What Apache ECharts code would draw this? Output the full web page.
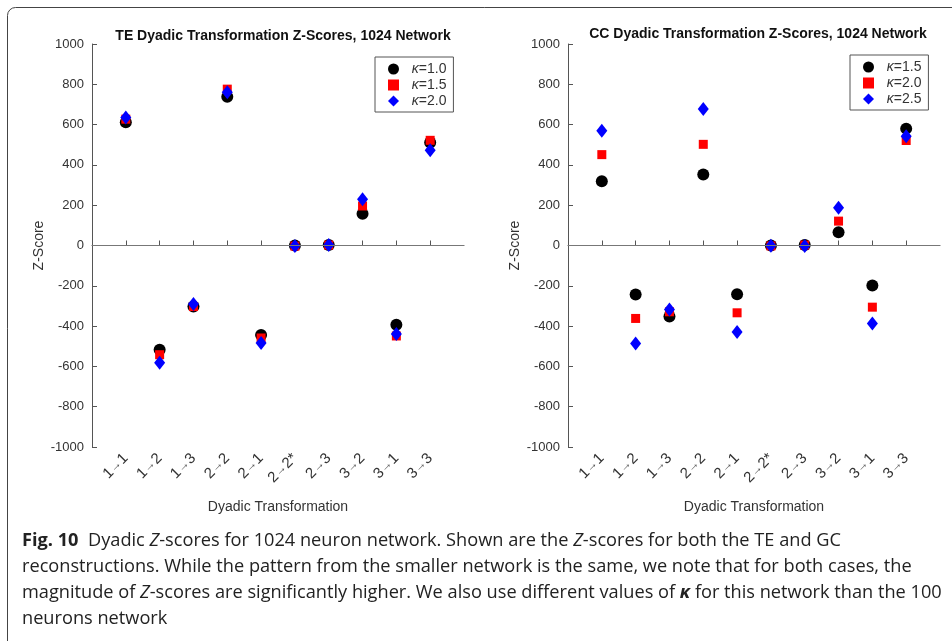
<!DOCTYPE html>
<html>
<head>
<meta charset="utf-8">
<script src="https://cdn.jsdelivr.net/npm/echarts@6/dist/echarts.min.js"></script>
<style>
  html, body { margin: 0; padding: 0; background: #fff; }
  #main { width: 952px; height: 641px; }
</style>
</head>
<body>
<div id="main"></div>
<script>
// tick labels of the dyadic transformations (x positions 1..10)
const transforms = ['1→1', '1→2', '1→3', '2→2', '2→1', '2→2*', '2→3', '3→2', '3→1', '3→3'];
const yTicks = [-1000, -800, -600, -400, -200, 0, 200, 400, 600, 800, 1000];

// TE z-scores
const teK10 = [612, -517, -303, 738, -444, 0, 2, 158, -393, 511];
const teK15 = [627, -542, -303, 776, -459, -3, 2, 196, -449, 522];
const teK20 = [635, -582, -290, 760, -484, -2, 2, 229, -439, 473];

// CC z-scores
const ccK15 = [319, -243, -352, 352, -242, 0, 3, 66, -198, 580];
const ccK20 = [451, -362, -329, 502, -334, -2, 2, 121, -306, 521];
const ccK25 = [570, -486, -318, 678, -429, -1, -3, 187, -387, 542];

const chart = echarts.init(document.getElementById('main'));

const pts = arr => arr.map((v, i) => [i + 1, v]);
const font = 'Arial, "Liberation Sans", sans-serif';
const capFont = '"Open Sans", sans-serif';
const capSize = 18.2;

function xAxisFor(idx) {
  return {
    type: 'value', gridIndex: idx, min: 0, max: 11, interval: 1,
    name: 'Dyadic Transformation', nameLocation: 'middle', nameGap: 53,
    nameTextStyle: { fontFamily: font, fontSize: 14, color: '#333' },
    axisLine: { lineStyle: { color: '#555', width: 1 } },
    axisTick: { inside: true, length: 5, lineStyle: { color: '#555' }, customValues: [1, 2, 3, 4, 5, 6, 7, 8, 9, 10] },
    axisLabel: {
      customValues: [1, 2, 3, 4, 5, 6, 7, 8, 9, 10],
      rotate: 45, margin: 9, fontFamily: font, fontSize: 15, color: '#333',
      formatter: v => {
        const t = transforms[v - 1] || '';
        const p = t.split('→');
        return '{n|' + p[0] + '}{a|→}{n|' + p[1] + '}';
      },
      rich: {
        n: { fontFamily: font, fontSize: 15, color: '#333' },
        a: { fontFamily: font, fontSize: 12, color: '#555' }
      }
    },
    splitLine: { show: false }
  };
}

function yAxisFor(idx) {
  return {
    type: 'value', gridIndex: idx, min: yTicks[0], max: yTicks[yTicks.length - 1], interval: 200,
    name: 'Z-Score', nameLocation: 'middle', nameGap: 46, nameRotate: 90,
    nameTextStyle: { fontFamily: font, fontSize: 14, color: '#333' },
    axisLine: { show: true, lineStyle: { color: '#555', width: 1 } },
    axisTick: { show: true, inside: true, length: 5, lineStyle: { color: '#555' } },
    axisLabel: { fontFamily: font, fontSize: 13, color: '#333', margin: 8, formatter: v => String(v) },
    splitLine: { show: false }
  };
}

const zeroLine = {
  silent: true, symbol: 'none', label: { show: false },
  lineStyle: { color: '#777', width: 1, type: 'solid' },
  data: [{ yAxis: 0 }]
};

function scatter(name, idx, data, symbol, size, color, withLine) {
  const s = {
    name: name, type: 'scatter', xAxisIndex: idx, yAxisIndex: idx,
    data: pts(data), symbol: symbol, symbolSize: size,
    itemStyle: { color: color, opacity: 1 }
  };
  if (withLine) s.markLine = zeroLine;
  return s;
}

const legendBase = {
  orient: 'vertical', itemWidth: 11, itemHeight: 11, itemGap: 2,
  padding: [5, 7, 4, 13],
  borderColor: '#555', borderWidth: 1, backgroundColor: '#fff',
  selectedMode: false,
  formatter: name => '  {k|κ}' + name.split('κ')[1],
  textStyle: {
    fontFamily: font, fontSize: 14, color: '#333',
    rich: { k: { fontFamily: font, fontSize: 14, fontStyle: 'italic', color: '#333' } }
  }
};

const option = {
  animation: false,
  backgroundColor: '#fff',
  title: [
    { text: 'TE Dyadic Transformation Z-Scores, 1024 Network', left: 278, top: 24, textAlign: 'center',
      textStyle: { fontFamily: font, fontSize: 14, fontWeight: 'bold', color: '#111' } },
    { text: 'CC Dyadic Transformation Z-Scores, 1024 Network', left: 753, top: 22, textAlign: 'center',
      textStyle: { fontFamily: font, fontSize: 14, fontWeight: 'bold', color: '#111' } }
  ],
  grid: [
    { left: 92, top: 44, width: 372, height: 403 },
    { left: 568, top: 44, width: 372, height: 403 }
  ],
  xAxis: [xAxisFor(0), xAxisFor(1)],
  yAxis: [yAxisFor(0), yAxisFor(1)],
  legend: [
    Object.assign({}, legendBase, { left: 375, top: 57, data: [
      { name: 'TE κ=1.0', icon: 'circle' }, { name: 'TE κ=1.5', icon: 'rect' }, { name: 'TE κ=2.0', icon: 'diamond' }] }),
    Object.assign({}, legendBase, { left: 850, top: 55, data: [
      { name: 'CC κ=1.5', icon: 'circle' }, { name: 'CC κ=2.0', icon: 'rect' }, { name: 'CC κ=2.5', icon: 'diamond' }] })
  ],
  series: [
    scatter('TE κ=1.0', 0, teK10, 'circle', 12, '#000', true),
    scatter('TE κ=1.5', 0, teK15, 'rect', 9, '#f00', false),
    scatter('TE κ=2.0', 0, teK20, 'diamond', [11, 14], '#00f', false),
    scatter('CC κ=1.5', 1, ccK15, 'circle', 12, '#000', true),
    scatter('CC κ=2.0', 1, ccK20, 'rect', 9, '#f00', false),
    scatter('CC κ=2.5', 1, ccK25, 'diamond', [11, 14], '#00f', false)
  ],
  graphic: [
    { type: 'rect', shape: { x: 7.5, y: 7.5, width: 980, height: 700, r: [8, 0, 0, 0] },
      style: { fill: 'none', stroke: '#444', lineWidth: 1 }, silent: true },
    { type: 'text', left: 22, top: 532, style: {
      text: '{b|Fig. 10}  Dyadic {i|Z}-scores for 1024 neuron network. Shown are the {i|Z}-scores for both the TE and GC',
      fontFamily: capFont, fontSize: capSize, fill: '#222',
      rich: { b: { fontFamily: capFont, fontSize: capSize, fontWeight: 'bold', fill: '#222' },
              i: { fontFamily: capFont, fontSize: capSize, fontStyle: 'italic', fill: '#222' } } } },
    { type: 'text', left: 22, top: 558, style: {
      text: 'reconstructions. While the pattern from the smaller network is the same, we note that for both cases, the',
      fontFamily: capFont, fontSize: capSize, fill: '#222' } },
    { type: 'text', left: 22, top: 584, style: {
      text: 'magnitude of {i|Z}-scores are significantly higher. We also use different values of {k|κ} for this network than the 100',
      fontFamily: capFont, fontSize: capSize, fill: '#222',
      rich: { i: { fontFamily: capFont, fontSize: capSize, fontStyle: 'italic', fill: '#222' },
              k: { fontFamily: capFont, fontSize: capSize, fontStyle: 'italic', fontWeight: 'bold', fill: '#222' } } } },
    { type: 'text', left: 22, top: 610, style: {
      text: 'neurons network', fontFamily: capFont, fontSize: capSize, fill: '#222' } }
  ]
};

chart.setOption(option);
</script>
</body>
</html>
